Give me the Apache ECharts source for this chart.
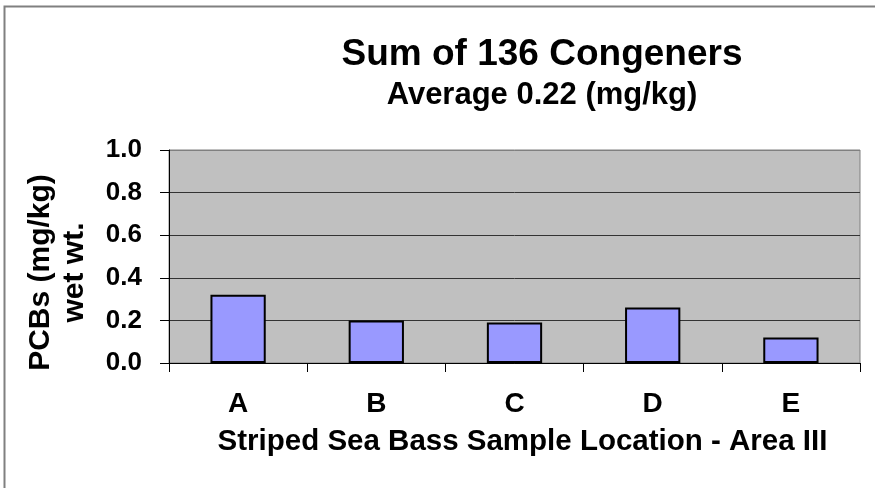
<!DOCTYPE html>
<html>
<head>
<meta charset="utf-8">
<script src="https://cdn.jsdelivr.net/npm/echarts@6/dist/echarts.min.js"></script>
<style>
  html, body { margin: 0; padding: 0; background: #ffffff; }
  #chart { width: 875px; height: 488px; }
</style>
</head>
<body>
<div id="chart"></div>
<script>
// Sample locations and mean PCB concentrations (sum of 136 congeners)
const locations = ['A', 'B', 'C', 'D', 'E'];
const pcbValues = [0.32, 0.20, 0.19, 0.26, 0.12];
const chartTitle = 'Sum of 136 Congeners';
const chartSubtitle = 'Average 0.22 (mg/kg)';
const xAxisTitle = 'Striped Sea Bass Sample Location - Area III';
const yAxisTitle = 'PCBs (mg/kg)\nwet wt.';

const FONT = '"Liberation Sans", Arial, sans-serif';

const chart = echarts.init(document.getElementById('chart'), null, { renderer: 'canvas' });

chart.setOption({
  backgroundColor: '#ffffff',
  animation: false,
  title: [
    {
      text: chartTitle,
      left: 542,
      top: 36,
      padding: 0,
      textAlign: 'center',
      textStyle: { fontFamily: FONT, fontSize: 37, fontWeight: 'bold', color: '#000000' }
    },
    {
      text: chartSubtitle,
      left: 542,
      top: 80,
      padding: 0,
      textAlign: 'center',
      textStyle: { fontFamily: FONT, fontSize: 31, fontWeight: 'bold', color: '#000000' }
    }
  ],
  graphic: [
    {
      // outer chart frame
      type: 'rect',
      silent: true,
      z: 100,
      shape: { x: 4.5, y: 6.5, width: 900, height: 600 },
      style: { fill: null, stroke: '#808080', lineWidth: 2 }
    }
  ],
  grid: {
    left: 169,
    top: 150,
    right: 15,
    bottom: 125,
    show: true,
    backgroundColor: '#C0C0C0',
    borderColor: '#808080',
    borderWidth: 1
  },
  xAxis: {
    type: 'category',
    data: locations,
    boundaryGap: true,
    name: xAxisTitle,
    nameLocation: 'middle',
    nameGap: 64,
    nameTextStyle: {
      fontFamily: FONT, fontSize: 29.5, fontWeight: 'bold', color: '#000000',
      padding: [0, 0, 0, 16]
    },
    axisLine: { show: true, lineStyle: { color: '#000000', width: 1 } },
    axisTick: { show: true, inside: false, length: 9, alignWithLabel: false, lineStyle: { color: '#000000' } },
    axisLabel: {
      margin: 27,
      fontFamily: FONT, fontSize: 28, fontWeight: 'bold', color: '#000000'
    },
    splitLine: { show: false }
  },
  yAxis: {
    type: 'value',
    min: 0,
    max: 1,
    interval: 0.2,
    name: yAxisTitle,
    nameLocation: 'middle',
    nameRotate: 90,
    nameGap: 77.5,
    nameTextStyle: {
      fontFamily: FONT, fontSize: 30, fontWeight: 'bold', color: '#000000',
      lineHeight: 34, align: 'center',
      padding: [0, 32, 0, 0]
    },
    axisLine: { show: true, lineStyle: { color: '#000000', width: 1 } },
    axisTick: { show: true, inside: false, length: 9, lineStyle: { color: '#000000' } },
    axisLabel: {
      margin: 27,
      fontFamily: FONT, fontSize: 26, fontWeight: 'bold', color: '#000000',
      formatter: v => v.toFixed(1)
    },
    splitLine: {
      show: true,
      lineStyle: { color: ['#000000', '#333333', '#333333', '#333333', '#333333', '#808080'], width: 1 }
    }
  },
  series: [
    {
      type: 'bar',
      data: pcbValues,
      barWidth: '40%',
      itemStyle: { color: '#9999FF', borderColor: '#000000', borderWidth: 2 }
    }
  ]
});
</script>
</body>
</html>
